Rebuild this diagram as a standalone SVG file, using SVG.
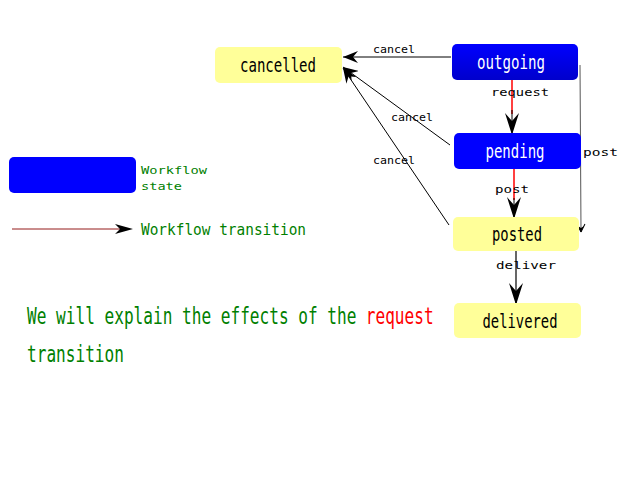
<svg xmlns="http://www.w3.org/2000/svg" width="640" height="480" viewBox="0 0 640 480">
<defs>
<linearGradient id="gblue" x1="0" y1="0" x2="0" y2="1">
<stop offset="0" stop-color="#0000FF"/>
<stop offset="1" stop-color="#0000CC"/>
</linearGradient>
<marker id="big" markerWidth="24" markerHeight="16" refX="22" refY="8" orient="auto" markerUnits="userSpaceOnUse" viewBox="0 0 24 16">
<path d="M22,8 L0,1 L8,8 L0,15 Z" fill="#000"/>
</marker>
<marker id="small" markerWidth="16" markerHeight="12" refX="15" refY="6" orient="auto" markerUnits="userSpaceOnUse" viewBox="0 0 16 12">
<path d="M15,6 L0,0 L5,6 L0,12 Z" fill="#000"/>
</marker>
<marker id="thin" markerWidth="10" markerHeight="10" refX="9" refY="5" orient="auto" markerUnits="userSpaceOnUse" viewBox="0 0 10 10">
<path d="M9,5 L1,1 M9,5 L1,9" stroke="#000" fill="none" stroke-width="1"/>
<path d="M9,5 L3,2 L5,5 L3,8 Z" fill="#000"/>
</marker>
</defs>
<style>
.blue{fill:#0000FF}
.yel{fill:#FFFF99}
.nt{font-family:"DejaVu Sans Mono","Liberation Mono",monospace;font-size:20px;text-anchor:middle}
.wt{fill:#fff}
.bt{fill:#000}
.lbl{font-family:"DejaVu Sans Mono","Liberation Mono",monospace;font-size:11px;fill:#000}
.grn{fill:#008000;font-family:"DejaVu Sans Mono","Liberation Mono",monospace}
.conn{fill:none;stroke:#000;stroke-width:1}
</style>
<g id="connectors">
<path class="conn" d="M451,57 L343,57" marker-end="url(#small)" stroke="#333"/>
<path class="conn" d="M450,145 L343,67" marker-end="url(#small)"/>
<path class="conn" d="M449,225 L343,68" marker-end="url(#small)"/>
<path d="M512,80 L512,114" stroke="#FF0000" stroke-width="1.5" fill="none"/>
<path d="M512,110 L512,135" stroke="#000" fill="none" marker-end="url(#big)"/>
<path d="M514,169 L514,200" stroke="#FF0000" stroke-width="1.5" fill="none"/>
<path d="M514,198 L514,219" stroke="#000" fill="none" marker-end="url(#big)"/>
<path d="M516,251 L516,305" stroke="#000" stroke-width="1.2" fill="none" marker-end="url(#big)"/>
<path d="M580,65 L581,232" stroke="#555" stroke-width="1" fill="none" marker-end="url(#thin)"/>
<text class="lbl" x="373" y="53" textLength="42" lengthAdjust="spacingAndGlyphs">cancel</text>
<text class="lbl" x="391" y="121" textLength="42" lengthAdjust="spacingAndGlyphs">cancel</text>
<text class="lbl" x="373" y="164" textLength="42" lengthAdjust="spacingAndGlyphs">cancel</text>
<text class="lbl" x="491" y="96" textLength="58" lengthAdjust="spacingAndGlyphs">request</text>
<text class="lbl" x="495" y="193" textLength="34" lengthAdjust="spacingAndGlyphs">post</text>
<text class="lbl" x="496" y="269" textLength="60" lengthAdjust="spacingAndGlyphs">deliver</text>
<text class="lbl" x="583" y="156" textLength="35" lengthAdjust="spacingAndGlyphs">post</text>
</g>
<g id="cancelled">
<rect class="yel" x="215" y="47" width="127" height="36" rx="5"/>
<text class="nt bt" x="278" y="72" textLength="76" lengthAdjust="spacingAndGlyphs">cancelled</text>
</g>
<g id="outgoing">
<rect x="452" y="44" width="126" height="36" rx="5" fill="url(#gblue)"/>
<text class="nt wt" x="511" y="69" textLength="68" lengthAdjust="spacingAndGlyphs">outgoing</text>
</g>
<g id="pending">
<rect class="blue" x="454" y="133" width="127" height="36" rx="5"/>
<text class="nt wt" x="515" y="158" textLength="59" lengthAdjust="spacingAndGlyphs">pending</text>
</g>
<g id="posted">
<rect class="yel" x="453" y="217" width="126" height="34" rx="5"/>
<text class="nt bt" x="517" y="241" textLength="50" lengthAdjust="spacingAndGlyphs">posted</text>
</g>
<g id="delivered">
<rect class="yel" x="454" y="303" width="127" height="35" rx="5"/>
<text class="nt bt" x="520" y="328" textLength="75" lengthAdjust="spacingAndGlyphs">delivered</text>
</g>
<g id="legend-state">
<rect class="blue" x="9" y="157" width="127" height="36" rx="5"/>
<text class="grn" x="141" y="174" font-size="11" textLength="66" lengthAdjust="spacingAndGlyphs">Workflow</text>
<text class="grn" x="141" y="190" font-size="11" textLength="41" lengthAdjust="spacingAndGlyphs">state</text>
</g>
<g id="legend-transition">
<path d="M12,229 L120,229" stroke="#880000" stroke-width="0.9" fill="none"/>
<path d="M133,229 L115,224 L120,229 L115,234 Z" fill="#000"/>
<text class="grn" x="141" y="235" font-size="16" textLength="165" lengthAdjust="spacingAndGlyphs">Workflow transition</text>
</g>
<g id="caption" transform="translate(27,0) scale(0.7,1)">
<text class="grn" x="0" y="324" font-size="23">We will explain the effects of the</text>
<text x="484" y="324" font-size="23" fill="#FF0000" font-family="DejaVu Sans Mono, Liberation Mono, monospace">request</text>
<text class="grn" x="0" y="362" font-size="23">transition</text>
</g>
</svg>
